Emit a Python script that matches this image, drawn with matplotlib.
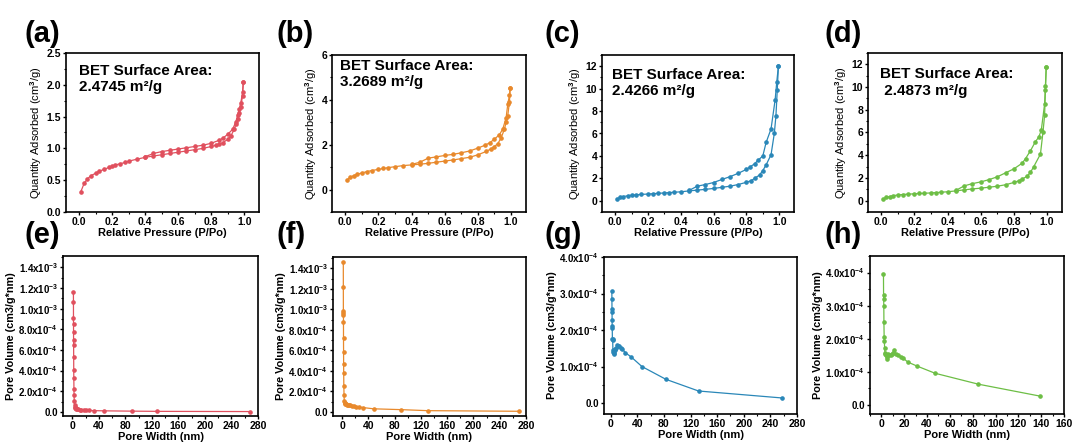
import matplotlib
matplotlib.use("Agg")
import matplotlib.pyplot as plt
from matplotlib.ticker import AutoMinorLocator, FuncFormatter, MultipleLocator

plt.rcParams.update(
    {
        "font.family": ["Liberation Sans", "DejaVu Sans"],
        "font.weight": "bold",
        "axes.labelweight": "bold",
        "mathtext.fontset": "custom",
        "mathtext.rm": "Liberation Sans:bold",
        "mathtext.bf": "Liberation Sans:bold",
        "mathtext.default": "bf",
        "axes.linewidth": 1.2,
    }
)

RED = "#E0505E"
ORANGE = "#E8892C"
BLUE = "#2A87B8"
GREEN = "#6DBE45"

# ---- N2 isotherms: P/Po vs quantity adsorbed (cm3/g) ----
a_ads_x = [0.01, 0.03, 0.05, 0.07, 0.1, 0.12, 0.15, 0.18, 0.2, 0.22, 0.25, 0.28, 0.3, 0.35, 0.4, 0.45, 0.5, 0.55,
           0.6, 0.65, 0.7, 0.75, 0.8, 0.83, 0.85, 0.87, 0.9, 0.92, 0.94, 0.95, 0.96, 0.97, 0.98, 0.99, 0.995]
a_ads_y = [0.32, 0.45, 0.52, 0.57, 0.61, 0.64, 0.67, 0.70, 0.72, 0.74, 0.76, 0.78, 0.80, 0.83, 0.86, 0.88, 0.90, 0.92,
           0.94, 0.96, 0.98, 1.00, 1.03, 1.05, 1.07, 1.09, 1.14, 1.20, 1.30, 1.38, 1.47, 1.55, 1.65, 1.83, 2.04]
a_des_x = [0.99, 0.98, 0.97, 0.96, 0.95, 0.93, 0.9, 0.87, 0.85, 0.8, 0.75, 0.7, 0.65, 0.6, 0.55, 0.5, 0.45, 0.4]
a_des_y = [1.88, 1.72, 1.62, 1.52, 1.42, 1.30, 1.22, 1.16, 1.13, 1.08, 1.05, 1.03, 1.01, 0.99, 0.97, 0.95, 0.92, 0.87]

b_ads_x = [0.01, 0.03, 0.05, 0.07, 0.1, 0.13, 0.16, 0.2, 0.23, 0.26, 0.3, 0.35, 0.4, 0.45, 0.5, 0.55, 0.6, 0.65,
           0.7, 0.75, 0.8, 0.85, 0.88, 0.9, 0.92, 0.94, 0.96, 0.97, 0.98, 0.99, 0.995]
b_ads_y = [0.42, 0.55, 0.62, 0.68, 0.74, 0.80, 0.85, 0.90, 0.94, 0.98, 1.02, 1.07, 1.10, 1.13, 1.17, 1.22, 1.27, 1.32,
           1.38, 1.44, 1.55, 1.70, 1.82, 1.92, 2.05, 2.30, 2.70, 3.00, 3.30, 3.90, 4.55]
b_des_x = [0.99, 0.98, 0.97, 0.95, 0.93, 0.9, 0.87, 0.84, 0.8, 0.75, 0.7, 0.65, 0.6, 0.55, 0.5, 0.45, 0.4]
b_des_y = [4.2, 3.8, 3.2, 2.7, 2.45, 2.25, 2.08, 1.97, 1.85, 1.72, 1.64, 1.57, 1.52, 1.46, 1.40, 1.22, 1.12]

c_ads_x = [0.01, 0.03, 0.05, 0.08, 0.1, 0.13, 0.16, 0.2, 0.23, 0.26, 0.3, 0.33, 0.36, 0.4, 0.45, 0.5, 0.55, 0.6,
           0.65, 0.7, 0.75, 0.8, 0.83, 0.85, 0.88, 0.9, 0.92, 0.95, 0.97, 0.98, 0.988, 0.995]
c_ads_y = [0.15, 0.30, 0.38, 0.45, 0.50, 0.53, 0.57, 0.60, 0.63, 0.66, 0.70, 0.73, 0.76, 0.80, 0.88, 0.95, 1.02, 1.10,
           1.20, 1.30, 1.45, 1.65, 1.80, 2.00, 2.30, 2.70, 3.20, 4.10, 6.00, 7.60, 9.90, 12.0]
c_des_x = [0.985, 0.975, 0.95, 0.92, 0.9, 0.87, 0.85, 0.82, 0.8, 0.75, 0.7, 0.65, 0.6, 0.55, 0.5, 0.45]
c_des_y = [10.6, 9.0, 6.4, 5.2, 4.0, 3.6, 3.3, 3.0, 2.8, 2.45, 2.15, 1.9, 1.63, 1.45, 1.30, 0.92]

d_ads_x = [0.01, 0.03, 0.05, 0.07, 0.1, 0.13, 0.16, 0.2, 0.23, 0.26, 0.3, 0.33, 0.36, 0.4, 0.45, 0.5, 0.55, 0.6,
           0.65, 0.7, 0.75, 0.8, 0.83, 0.85, 0.88, 0.9, 0.92, 0.96, 0.975, 0.985, 0.99, 0.995]
d_ads_y = [0.15, 0.28, 0.36, 0.43, 0.50, 0.54, 0.57, 0.60, 0.63, 0.65, 0.68, 0.71, 0.74, 0.78, 0.86, 0.95, 1.03, 1.10,
           1.18, 1.27, 1.40, 1.60, 1.75, 1.90, 2.15, 2.50, 3.00, 4.10, 6.00, 7.50, 9.70, 11.8]
d_des_x = [0.99, 0.985, 0.965, 0.95, 0.93, 0.9, 0.87, 0.85, 0.8, 0.75, 0.7, 0.65, 0.6, 0.55, 0.5, 0.45]
d_des_y = [10.1, 8.5, 6.2, 5.6, 5.2, 4.4, 3.7, 3.3, 2.8, 2.45, 2.1, 1.85, 1.65, 1.5, 1.3, 0.9]

# ---- pore size distributions: pore width (nm) vs pore volume (cm3/g*nm) ----
e_w = [1.7, 1.75, 1.8, 1.85, 1.9, 1.95, 2.0, 2.1, 2.2, 2.3, 2.5, 2.7, 3.0, 3.4, 3.9, 4.5, 5.3, 6.2, 7.5, 9,
       11, 13.5, 17, 21, 25, 32, 48, 90, 128, 268]
e_v = [1.16e-3, 1.06e-3, 0.91e-3, 0.855e-3, 0.77e-3, 0.70e-3, 0.645e-3, 0.535e-3, 0.405e-3, 0.33e-3,
       0.225e-3, 0.16e-3, 0.105e-3, 0.07e-3, 0.05e-3, 0.04e-3, 0.035e-3, 0.032e-3, 0.028e-3, 0.025e-3,
       0.022e-3, 0.02e-3, 0.018e-3, 0.016e-3, 0.014e-3, 0.012e-3, 0.01e-3, 0.007e-3, 0.005e-3, 0.003e-3]

f_w = [1.7, 1.75, 1.8, 1.85, 1.9, 1.95, 2.0, 2.1, 2.2, 2.3, 2.5, 2.8, 3.2, 3.7, 4.3, 5.0, 6.0, 7.0, 8.5, 10,
       12, 14.5, 17.5, 21, 25, 32, 48, 90, 130, 270]
f_v = [1.46e-3, 1.215e-3, 0.985e-3, 0.963e-3, 0.94e-3, 0.875e-3, 0.72e-3, 0.583e-3, 0.47e-3, 0.38e-3,
       0.256e-3, 0.168e-3, 0.104e-3, 0.09e-3, 0.082e-3, 0.078e-3, 0.075e-3, 0.072e-3, 0.07e-3, 0.068e-3,
       0.065e-3, 0.06e-3, 0.055e-3, 0.05e-3, 0.047e-3, 0.042e-3, 0.03e-3, 0.022e-3, 0.012e-3, 0.006e-3]

g_w = [1.8, 1.9, 2.0, 2.1, 2.2, 2.3, 2.4, 2.6, 2.8, 3.0, 3.4, 3.8, 4.3, 4.8, 5.4, 6.0, 7.0, 8.5, 10, 11.5,
       13, 15, 17.5, 22, 31, 47, 83, 132, 257]
g_v = [3.06e-4, 2.84e-4, 2.57e-4, 2.50e-4, 2.27e-4, 2.10e-4, 2.05e-4, 1.75e-4, 1.72e-4, 1.75e-4,
       1.45e-4, 1.40e-4, 1.38e-4, 1.35e-4, 1.42e-4, 1.45e-4, 1.48e-4, 1.52e-4, 1.58e-4, 1.56e-4,
       1.55e-4, 1.52e-4, 1.48e-4, 1.38e-4, 1.26e-4, 1.00e-4, 0.65e-4, 0.33e-4, 0.14e-4]

h_w = [1.8, 1.9, 2.0, 2.1, 2.2, 2.4, 2.6, 2.8, 3.1, 3.5, 4.0, 4.6, 5.2, 6.0, 7.0, 8.0, 9.0, 10, 11, 12.5,
       14.5, 17, 19, 23, 31, 47, 85, 139]
h_v = [3.97e-4, 3.33e-4, 3.20e-4, 3.00e-4, 2.50e-4, 2.05e-4, 1.93e-4, 1.73e-4, 1.58e-4, 1.55e-4,
       1.50e-4, 1.38e-4, 1.45e-4, 1.55e-4, 1.52e-4, 1.50e-4, 1.55e-4, 1.57e-4, 1.67e-4, 1.55e-4,
       1.50e-4, 1.46e-4, 1.42e-4, 1.30e-4, 1.18e-4, 0.96e-4, 0.63e-4, 0.27e-4]

BET_LABELS = ["BET Surface Area:\n2.4745 m\u00b2/g", "BET Surface Area:\n3.2689 m\u00b2/g",
              "BET Surface Area:\n2.4266 m\u00b2/g", "BET Surface Area:\n 2.4873 m\u00b2/g"]

W, H = 1075, 448


def add_ax(fig, x0, y0, x1, y1):
    return fig.add_axes([x0 / W, 1 - y1 / H, (x1 - x0) / W, (y1 - y0) / H])


def style(ax, xsize=7.5, ysize=7.5):
    ax.tick_params(which="major", direction="out", length=2.5, width=1.0, pad=1)
    ax.tick_params(axis="x", labelsize=xsize)
    ax.tick_params(axis="y", labelsize=ysize)
    ax.tick_params(which="minor", direction="out", length=1.4, width=0.8)
    ax.xaxis.set_minor_locator(AutoMinorLocator(2))
    ax.yaxis.set_minor_locator(AutoMinorLocator(2))


def sci_fmt(v, pos):
    if abs(v) < 1e-12:
        return "0.0"
    exp = int(f"{v:e}".split("e")[1])
    mant = v / 10 ** exp
    return f"{mant:.1f}x10$^{{{exp}}}$"


def draw_iso(ax, ads_x, ads_y, des_x, des_y, color, ylim, ystep, label, tx, ty):
    kw = dict(color=color, marker="o", markersize=2.3, linewidth=0.9)
    ax.plot(ads_x, ads_y, **kw)
    ax.plot([ads_x[-1]] + des_x, [ads_y[-1]] + des_y, **kw)
    ax.set_xlim(-0.08, 1.09)
    ax.set_ylim(*ylim)
    ax.xaxis.set_major_locator(MultipleLocator(0.2))
    ax.yaxis.set_major_locator(MultipleLocator(ystep))
    ax.xaxis.set_major_formatter(FuncFormatter(lambda v, p: f"{v:.1f}"))
    if ystep < 1:
        ax.yaxis.set_major_formatter(FuncFormatter(lambda v, p: f"{v:.1f}"))
    ax.set_xlabel("Relative Pressure (P/Po)", fontsize=8, labelpad=1)
    ax.set_ylabel("Quantity Adsorbed (cm$^{\\mathrm{3}}$/g)", fontsize=8, fontweight="normal", labelpad=2)
    ax.text(tx, ty, label, transform=ax.transAxes, va="top", ha="left",
            fontsize=11, fontweight="bold", linespacing=1.2)
    style(ax)


def draw_psd(ax, w, v, color, xlim, xstep, ylim, ystep):
    ax.plot(w, v, color=color, marker="o", markersize=2.3, linewidth=0.9)
    ax.set_xlim(*xlim)
    ax.set_ylim(*ylim)
    ax.xaxis.set_major_locator(MultipleLocator(xstep))
    ax.yaxis.set_major_locator(MultipleLocator(ystep))
    ax.yaxis.set_major_formatter(FuncFormatter(sci_fmt))
    ax.set_xlabel("Pore Width (nm)", fontsize=8, labelpad=1)
    ax.set_ylabel("Pore Volume (cm3/g*nm)", fontsize=7.8, labelpad=2)
    style(ax, xsize=7.5, ysize=7)


fig = plt.figure(figsize=(W / 100, H / 100), dpi=100)

ax_a = add_ax(fig, 66, 53, 259, 212)
ax_b = add_ax(fig, 332, 55, 526, 212)
ax_c = add_ax(fig, 602, 55, 794, 212)
ax_d = add_ax(fig, 868, 53, 1062, 212)
ax_e = add_ax(fig, 63, 256, 258, 416)
ax_f = add_ax(fig, 333, 257, 526, 416)
ax_g = add_ax(fig, 604, 257, 797, 414)
ax_h = add_ax(fig, 870, 256, 1064, 414)

draw_iso(ax_a, a_ads_x, a_ads_y, a_des_x, a_des_y, RED, (0, 2.5), 0.5, BET_LABELS[0], 0.065, 0.93)
draw_iso(ax_b, b_ads_x, b_ads_y, b_des_x, b_des_y, ORANGE, (-1, 6), 2, BET_LABELS[1], 0.04, 0.975)
draw_iso(ax_c, c_ads_x, c_ads_y, c_des_x, c_des_y, BLUE, (-1, 13), 2, BET_LABELS[2], 0.05, 0.92)
draw_iso(ax_d, d_ads_x, d_ads_y, d_des_x, d_des_y, GREEN, (-1, 13), 2, BET_LABELS[3], 0.06, 0.91)

draw_psd(ax_e, e_w, e_v, RED, (-14, 280), 40, (-0.4e-4, 1.51e-3), 2e-4)
draw_psd(ax_f, f_w, f_v, ORANGE, (-14, 280), 40, (-0.4e-4, 1.51e-3), 2e-4)
draw_psd(ax_g, g_w, g_v, BLUE, (-10, 280), 40, (-0.3e-4, 4.0e-4), 1e-4)
draw_psd(ax_h, h_w, h_v, GREEN, (-10, 160), 20, (-0.27e-4, 4.5e-4), 1e-4)

panel_pos = [("(a)", 24, 34), ("(b)", 277, 34), ("(c)", 545, 34), ("(d)", 825, 34),
             ("(e)", 24, 235), ("(f)", 277, 235), ("(g)", 545, 235), ("(h)", 825, 235)]
for lab, px, py in panel_pos:
    fig.text(px / W, 1 - py / H, lab, fontsize=21, fontweight="bold", va="center", ha="left")

fig.savefig("out.png", dpi=100)
